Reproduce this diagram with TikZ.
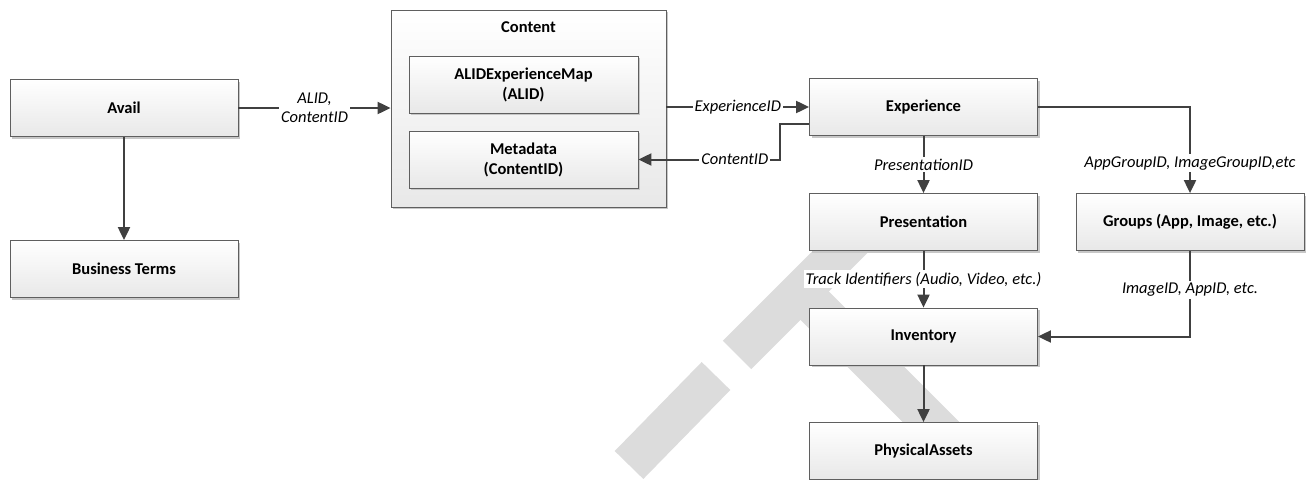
\documentclass[tikz,border=0pt]{standalone}
\usepackage{fontspec}
\setmainfont{Carlito}
\usepackage{tikz}
\usepackage{xcolor}
\usetikzlibrary{shapes.geometric, arrows.meta, shadows, positioning}
\definecolor{linegray}{RGB}{64,64,64}
\definecolor{boxline}{RGB}{95,95,95}
\definecolor{boxfill}{RGB}{232,232,232}
\definecolor{wmgray}{RGB}{220,220,220}
\tikzstyle{entity} = [rectangle, minimum width=228pt, minimum height=57pt, inner sep=0pt, align=center, draw=boxline, line width=0.8pt, top color=white, bottom color=boxfill, drop shadow={shadow xshift=2pt, shadow yshift=-2pt, fill=black!22, opacity=1}, font=\fontsize{16.5}{20}\selectfont\bfseries]
\tikzstyle{group} = [entity, minimum width=275pt, minimum height=197pt]
\tikzstyle{title} = [inner sep=0pt, font=\fontsize{16.5}{20}\selectfont\bfseries]
\tikzstyle{lab} = [fill=white, inner sep=2pt, align=center, font=\fontsize{16.5}{19.5}\selectfont\itshape]
\tikzstyle{arrow} = [line width=2pt, draw=linegray, -{Triangle[length=13pt,width=12pt]}]
\tikzstyle{wm} = [draw=wmgray, line width=40pt]

\begin{document}
\begin{tikzpicture}[x=1pt, y=-1pt]
    \useasboundingbox (0,0) rectangle (1308,479);
    % watermark
    \draw [wm] (629,465) -- (716,376);
    \draw [wm] (737,355) -- (860,232);
    \draw [wm] (800,291) -- (1000,491);

    \node (avail) [entity] at (124,108) {Avail};
    \node (terms) [entity] at (124,269) {Business Terms};

    \node (content) [group] at (528.5,108.5) {};
    \node (contentlab) [title, below=12pt of content.north] {Content};
    \node (alidmap) [entity, minimum width=229pt] at (523.5,84.5) {ALIDExperienceMap\\(ALID)};
    \node (meta) [entity, minimum width=229pt] at (523.5,159.5) {Metadata\\(ContentID)};

    \node (exp) [entity] at (923.5,107) {Experience};
    \node (pres) [entity] at (923.5,222) {Presentation};
    \node (groups) [entity] at (1190,222) {Groups (App, Image, etc.)};
    \node (inv) [entity] at (923.5,336.5) {Inventory};
    \node (phys) [entity] at (923.5,451) {PhysicalAssets};

    \draw [arrow] (avail) -- node [lab] {ALID,\\ContentID} (avail -| content.west);
    \draw [arrow] (avail) -- (terms);
    \draw [arrow] (exp -| content.east) -- node [lab] {ExperienceID} (exp);
    \draw [arrow] ([yshift=-17pt]exp.west) -- ++(-29,0) |- node [lab, pos=0.66] {ContentID} (meta);
    \draw [arrow] (exp) -- node [lab] {PresentationID} (pres);
    \draw [arrow] (exp) -| node [lab, pos=0.826] {AppGroupID, ImageGroupID,etc} (groups);
    \draw [arrow] (pres) -- node [lab] {Track Identifiers (Audio, Video, etc.)} (inv);
    \draw [arrow] (groups) |- node [lab, pos=0.228] {ImageID, AppID, etc.} (inv);
    \draw [arrow] (inv) -- (phys);
\end{tikzpicture}
\end{document}
